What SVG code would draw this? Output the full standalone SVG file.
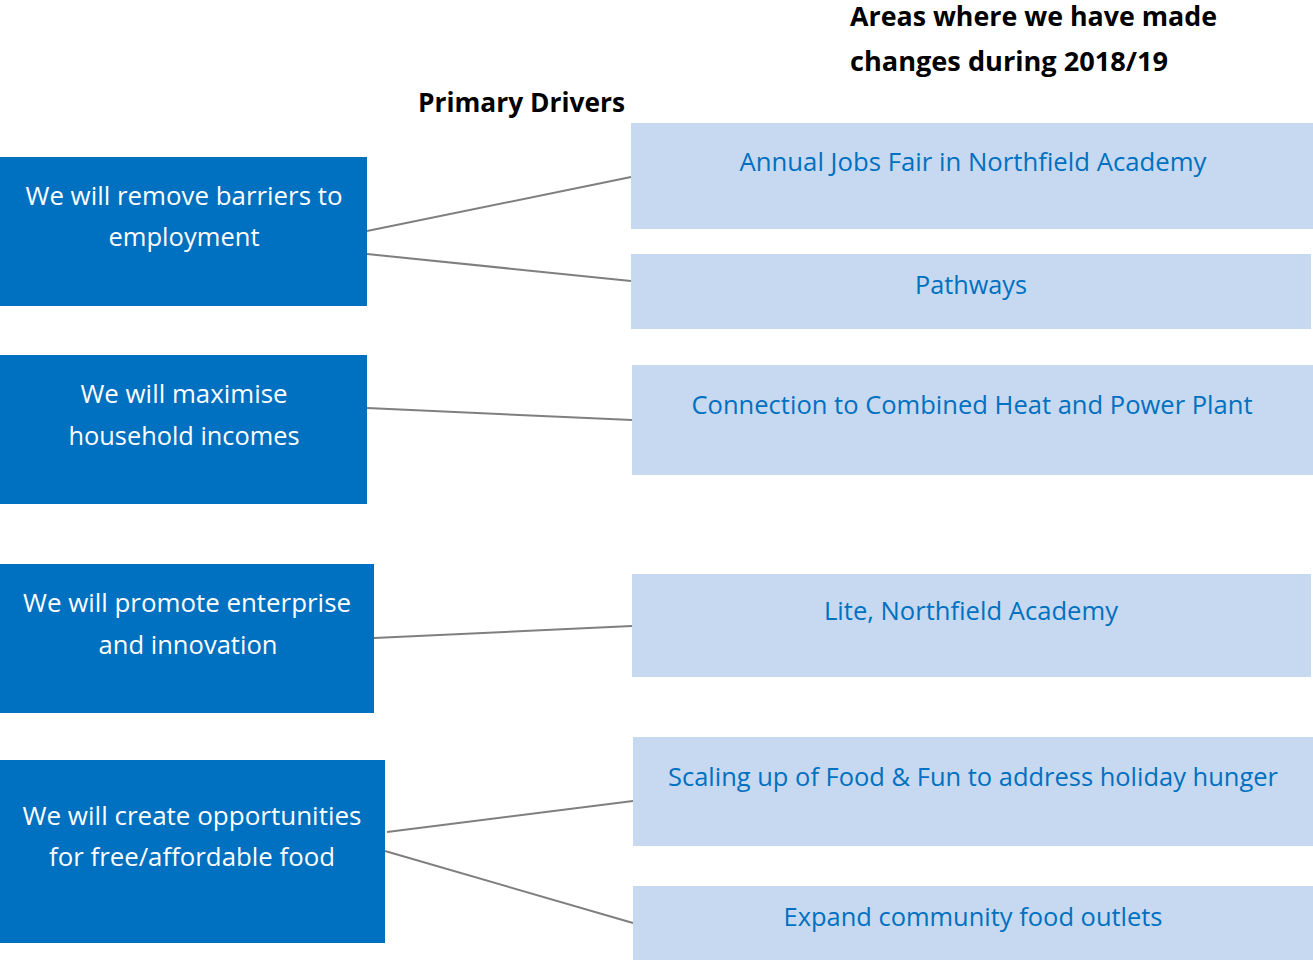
<svg xmlns="http://www.w3.org/2000/svg" width="1313" height="960" viewBox="0 0 1313 960">
<style>
.dk{fill:#0070C0}
.lt{fill:#C6D9F1}
.tw{font-family:"Open Sans","Noto Sans",sans-serif;font-size:25px;fill:#FFFFFF;text-anchor:middle}
.tb{font-family:"Open Sans","Noto Sans",sans-serif;font-size:25px;fill:#0070C0;text-anchor:middle}
.hd{font-family:"Open Sans","Noto Sans",sans-serif;font-size:26px;font-weight:bold;fill:#000000}
.cn{stroke:#7F7F7F;stroke-width:2;fill:none}
</style>
<rect width="1313" height="960" fill="#FFFFFF"/>
<g id="headers">
<text class="hd" x="850" y="26" textLength="367" lengthAdjust="spacingAndGlyphs">Areas where we have made</text>
<text class="hd" x="850" y="71" textLength="318" lengthAdjust="spacingAndGlyphs">changes during 2018/19</text>
<text class="hd" x="418" y="112" textLength="207" lengthAdjust="spacingAndGlyphs">Primary Drivers</text>
</g>
<g id="connectors">
<line class="cn" x1="367" y1="231" x2="631" y2="177"/>
<line class="cn" x1="367" y1="254" x2="631" y2="281"/>
<line class="cn" x1="367" y1="408" x2="632" y2="420"/>
<line class="cn" x1="374" y1="638" x2="632" y2="626"/>
<line class="cn" x1="387" y1="832" x2="633" y2="801"/>
<line class="cn" x1="385" y1="851" x2="633" y2="923"/>
</g>
<g id="driver1">
<rect class="dk" x="0" y="157" width="367" height="149"/>
<text class="tw" x="184" y="205" textLength="317" lengthAdjust="spacingAndGlyphs">We will remove barriers to</text>
<text class="tw" x="184" y="246" textLength="151" lengthAdjust="spacingAndGlyphs">employment</text>
</g>
<g id="driver2">
<rect class="dk" x="0" y="355" width="367" height="149"/>
<text class="tw" x="184" y="403" textLength="207" lengthAdjust="spacingAndGlyphs">We will maximise</text>
<text class="tw" x="184" y="445" textLength="231" lengthAdjust="spacingAndGlyphs">household incomes</text>
</g>
<g id="driver3">
<rect class="dk" x="0" y="564" width="374" height="149"/>
<text class="tw" x="187" y="612" textLength="328" lengthAdjust="spacingAndGlyphs">We will promote enterprise</text>
<text class="tw" x="188" y="654" textLength="179" lengthAdjust="spacingAndGlyphs">and innovation</text>
</g>
<g id="driver4">
<rect class="dk" x="0" y="760" width="385" height="183"/>
<text class="tw" x="192" y="825" textLength="339" lengthAdjust="spacingAndGlyphs">We will create opportunities</text>
<text class="tw" x="192" y="866" textLength="286" lengthAdjust="spacingAndGlyphs">for free/affordable food</text>
</g>
<g id="change1">
<rect class="lt" x="631" y="123" width="682" height="106"/>
<text class="tb" x="973" y="171" textLength="467" lengthAdjust="spacingAndGlyphs">Annual Jobs Fair in Northfield Academy</text>
</g>
<g id="change2">
<rect class="lt" x="631" y="254" width="680" height="75"/>
<text class="tb" x="971" y="294" textLength="112" lengthAdjust="spacingAndGlyphs">Pathways</text>
</g>
<g id="change3">
<rect class="lt" x="632" y="365" width="681" height="110"/>
<text class="tb" x="972" y="414" textLength="561" lengthAdjust="spacingAndGlyphs">Connection to Combined Heat and Power Plant</text>
</g>
<g id="change4">
<rect class="lt" x="632" y="574" width="679" height="103"/>
<text class="tb" x="971" y="620" textLength="294" lengthAdjust="spacingAndGlyphs">Lite, Northfield Academy</text>
</g>
<g id="change5">
<rect class="lt" x="633" y="737" width="680" height="109"/>
<text class="tb" x="973" y="786" textLength="610" lengthAdjust="spacingAndGlyphs">Scaling up of Food &amp; Fun to address holiday hunger</text>
</g>
<g id="change6">
<rect class="lt" x="633" y="886" width="680" height="74"/>
<text class="tb" x="973" y="926" textLength="379" lengthAdjust="spacingAndGlyphs">Expand community food outlets</text>
</g>
</svg>
